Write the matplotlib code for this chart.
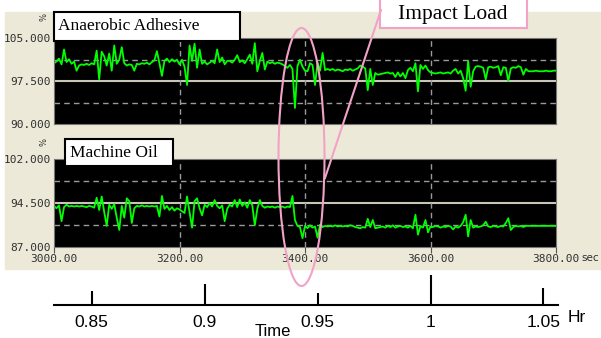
import numpy as np
import matplotlib
matplotlib.use("Agg")
import matplotlib.pyplot as plt
from matplotlib.patches import Rectangle, Ellipse

# time axis (seconds), one reading every 4 s
t_sec = np.arange(3000, 3801, 4)

# friction-torque ratio, anaerobic adhesive (%)
adhesive = [
    100.6, 100.9, 101.4, 100.4, 103.0, 100.8, 101.3, 100.5, 100.9, 99.3,
    100.2, 100.4, 100.3, 100.5, 100.3, 100.6, 100.4, 102.8, 97.8, 102.6,
    101.8, 100.2, 102.3, 99.3, 103.7, 100.5, 101.2, 103.4, 100.6, 100.2,
    100.4, 100.3, 99.3, 100.5, 100.4, 100.6, 100.5, 100.7, 100.4, 100.8,
    101.1, 102.7, 100.6, 98.4, 101.0, 101.4, 100.8, 101.3, 100.9, 101.2,
    100.4, 101.2, 100.0, 96.8, 103.7, 101.0, 104.0, 99.8, 103.0, 100.5,
    100.9, 100.4, 100.7, 101.0, 100.6, 103.0, 100.8, 101.6, 100.4, 101.0,
    101.0, 100.7, 101.2, 102.0, 100.8, 101.1, 100.6, 101.3, 102.1, 100.5,
    104.1, 99.2, 101.0, 102.4, 99.5, 100.9, 100.6, 100.8, 100.5, 100.7,
    100.6, 100.4, 100.1, 99.8, 100.3, 99.6, 92.8, 100.1, 101.2, 100.0,
    99.3, 99.2, 100.6, 100.3, 96.8, 100.7, 99.3, 102.4, 99.4, 99.6,
    99.4, 99.6, 99.3, 99.5, 99.4, 99.2, 99.5, 99.4, 99.6, 99.3,
    99.5, 99.7, 100.2, 100.0, 99.7, 95.9, 99.6, 96.8, 98.9, 98.6,
    98.7, 98.8, 98.9, 99.0, 98.8, 98.9, 98.2, 99.0, 98.3, 98.9,
    98.0, 99.4, 99.8, 99.2, 100.6, 95.7, 100.3, 99.6, 100.2, 99.4,
    99.0, 98.9, 98.8, 98.9, 99.0, 98.8, 98.9, 99.0, 98.8, 99.3,
    99.6, 98.8, 99.3, 98.0, 95.8, 101.0, 96.5, 99.2, 100.0, 100.1,
    100.0, 99.8, 97.8, 99.9, 100.0, 99.8, 99.9, 100.1, 98.5, 99.9,
    99.8, 97.5, 99.7, 99.9, 99.8, 100.1, 99.9, 98.6, 99.6, 99.2,
    99.2, 99.2, 99.3, 99.2, 99.2, 99.2, 99.3, 99.2, 99.2, 99.3,
    99.3,
]

# friction-torque ratio, machine oil (%)
oil = [
    94.0, 93.6, 94.1, 91.4, 93.8, 94.2, 93.9, 94.0, 93.9, 94.0,
    93.9, 94.0, 93.9, 93.8, 94.0, 93.9, 93.7, 95.4, 93.3, 95.6,
    93.0, 90.6, 94.2, 93.5, 94.3, 92.0, 89.9, 94.0, 92.0, 95.3,
    94.8, 91.1, 93.6, 94.0, 93.9, 94.1, 93.9, 94.0, 93.9, 94.0,
    93.9, 94.0, 92.2, 95.7, 93.5, 94.0, 93.3, 93.8, 93.2, 93.6,
    93.4, 93.1, 92.8, 95.6, 93.0, 90.3, 94.8, 95.3, 93.6, 92.4,
    94.2, 93.8, 94.5, 93.9, 95.0, 94.0, 93.6, 94.1, 91.4, 93.5,
    94.2, 93.9, 95.0, 93.8, 95.1, 94.0, 94.6, 93.7, 95.0, 94.1,
    90.7, 93.5, 95.0, 94.0, 93.7, 93.9, 93.8, 93.9, 93.7, 93.9,
    93.8, 93.9, 93.7, 93.9, 93.8, 95.7, 91.6, 90.6, 90.4, 88.5,
    90.6, 90.2, 90.7, 90.3, 90.5, 88.6, 90.8, 90.4, 90.6, 90.5,
    90.6, 90.5, 90.7, 90.5, 90.6, 90.5, 90.6, 90.5, 90.7, 90.6,
    90.4, 90.3, 90.2, 90.4, 90.3, 91.8, 90.4, 91.6, 90.2, 90.3,
    90.4, 90.5, 90.3, 90.6, 90.4, 90.7, 90.3, 90.5, 90.6, 90.4,
    90.5, 90.3, 90.6, 90.2, 92.5, 89.1, 90.6, 90.3, 91.6, 89.5,
    90.5, 90.4, 90.6, 90.5, 90.3, 90.5, 90.4, 90.6, 90.5, 90.0,
    90.5, 90.3, 90.6, 91.2, 92.5, 88.8, 91.6, 90.3, 90.5, 90.4,
    90.5, 90.7, 91.3, 90.5, 90.4, 90.6, 90.5, 90.4, 90.6, 90.5,
    91.1, 91.9, 89.9, 90.4, 90.6, 90.5, 90.6, 90.4, 90.6, 90.6,
    90.6, 90.6, 90.6, 90.6, 90.6, 90.6, 90.6, 90.6, 90.6, 90.6,
    90.6,
]

sec_ticks = [3000, 3200, 3400, 3600, 3800]
adhesive_yticks = [90.0, 97.5, 105.0]
oil_yticks = [87.0, 94.5, 102.0]
hour_ticks = [0.85, 0.9, 0.95, 1, 1.05]
hour_labels = ['0.85', '0.9', '0.95', '1', '1.05']

W, H = 601, 338
PINK = '#f2a2c6'


def rect(l, t, r, b):
    # pixel box -> figure fraction
    return [l / W, 1 - b / H, (r - l) / W, (b - t) / H]


fig = plt.figure(figsize=(W / 100, H / 100), dpi=100)
fig.add_artist(Rectangle((5 / W, 1 - 269 / H), 596 / W, 257 / H,
                         transform=fig.transFigure, color='#ece9d8', zorder=-5))


def panel(pos, y, yticks, show_x):
    ax = fig.add_axes(pos)
    ax.set_facecolor('black')
    lo, mid, hi = yticks
    ax.axhline(mid, color='#c9c5b8', lw=1.5, zorder=1)
    for v in [(lo + mid) / 2, (mid + hi) / 2]:
        ax.axhline(v, color='#9a9a9a', lw=1, ls=(0, (4, 3)), zorder=1)
    for s in sec_ticks[1:-1]:
        ax.axvline(s, color='#9a9a9a', lw=1, ls=(0, (4, 3)), zorder=1)
    ax.plot(t_sec, y, color='#00ff00', lw=1.3, zorder=2)
    ax.set_xlim(sec_ticks[0], sec_ticks[-1])
    ax.set_ylim(lo, hi)
    ax.set_yticks(yticks)
    ax.set_yticklabels(['%.3f' % v for v in yticks], family='DejaVu Sans Mono',
                       fontsize=8, color='#303030')
    ax.tick_params(axis='y', length=0, pad=2)
    if show_x:
        ax.set_xticks(sec_ticks)
        ax.set_xticklabels(['%.2f' % v for v in sec_ticks], family='DejaVu Sans Mono',
                           fontsize=8, color='#303030')
        ax.tick_params(axis='x', length=4, pad=1, color='#555555')
    else:
        ax.set_xticks([])
    for sp in ax.spines.values():
        sp.set_color('#777777')
    return ax


ax1 = panel(rect(54, 38, 556, 124), adhesive, adhesive_yticks, False)
ax2 = panel(rect(54, 159, 556, 247), oil, oil_yticks, True)

fig.text(44 / W, 1 - 17 / H, '%', fontsize=6, color='#303030', ha='center', va='center', rotation=90)
fig.text(44 / W, 1 - 142 / H, '%', fontsize=6, color='#303030', ha='center', va='center', rotation=90)
fig.text(590 / W, 1 - 258 / H, 'sec', fontsize=7.5, color='#303030', ha='center', va='center')

# hour axis below the panel
ax3 = fig.add_axes(rect(54, 270, 556, 305))
ax3.set_xlim(sec_ticks[0] / 3600, sec_ticks[-1] / 3600)
ax3.set_ylim(0, 1)
ax3.patch.set_alpha(0)
for k in ['top', 'left', 'right']:
    ax3.spines[k].set_visible(False)
ax3.spines['bottom'].set_linewidth(1.5)
ax3.spines['bottom'].set_bounds(sec_ticks[0] / 3600, 3803 / 3600)
ax3.set_yticks([])
ax3.set_xticks(hour_ticks)
ax3.set_xticklabels(hour_labels, family='Liberation Sans', fontsize=12.5)
ax3.tick_params(axis='x', direction='in', width=1.5, pad=7)
tick_len = [10, 15, 8.6, 21.6, 12.2]
for tk, L in zip(ax3.xaxis.get_major_ticks(), tick_len):
    tk.tick1line.set_markersize(L)
fig.text(577 / W, 1 - 318 / H, 'Hr', family='Liberation Sans', fontsize=12.5, ha='center', va='center')
fig.text(273 / W, 1 - 336.5 / H, 'Time', family='Liberation Sans', fontsize=12, ha='center', va='baseline')

# annotation layer in pixel units
ov = fig.add_axes([0, 0, 1, 1], zorder=10)
ov.set_xlim(0, W)
ov.set_ylim(H, 0)
ov.axis('off')
ov.patch.set_alpha(0)

ov.add_patch(Rectangle((54, 12), 186, 29, fc='white', ec='black', lw=1.5))
ov.text(58, 26.5, 'Anaerobic Adhesive', family='Liberation Serif', fontsize=12.5, va='center')
ov.add_patch(Rectangle((65, 139), 108, 27, fc='white', ec='black', lw=1.5))
ov.text(70, 153, 'Machine Oil', family='Liberation Serif', fontsize=12.5, va='center')

ov.add_patch(Ellipse((301.5, 157), 46, 258, fill=False, ec=PINK, lw=1.5))
ov.plot([381, 325], [10, 178], color=PINK, lw=1.5)
ov.add_patch(Rectangle((380, -5), 147, 33, fc='white', ec=PINK, lw=1.5))
ov.text(453, 14, 'Impact Load', family='Liberation Serif', fontsize=15.5, ha='center', va='center')

fig.savefig('out.png', dpi=100)
